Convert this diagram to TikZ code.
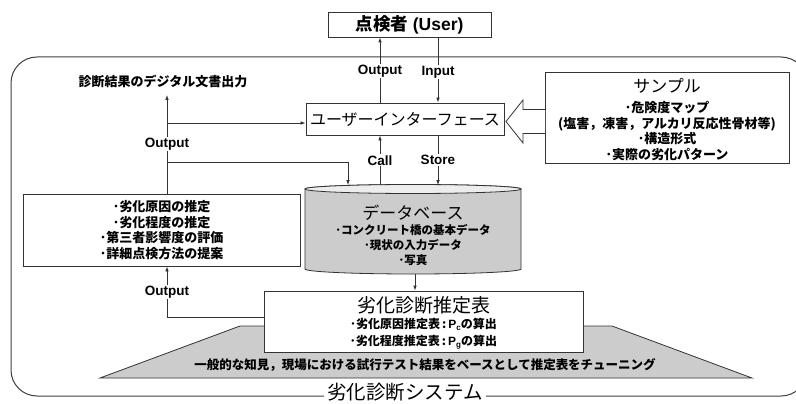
\documentclass[tikz,border=0pt]{standalone}
\usepackage{fontspec}
\setmainfont{Liberation Sans}
\newfontfamily\jp{Noto Sans CJK JP}
\usetikzlibrary{arrows.meta}
\begin{document}
\begin{tikzpicture}[x=1pt,y=1pt,
  ln/.style={draw=black!80, line width=0.8pt},
  arr/.style={ln, -{Latex[length=5pt,width=3.6pt]}},
  lbl/.style={font=\bfseries\fontsize{13.5}{15}\selectfont, fill=white, inner sep=1pt},
  box/.style={draw=black!80, line width=0.8pt, fill=white, inner sep=0pt},
  jpb/.style={font=\jp\bfseries\fontsize{13}{15.7}\selectfont, align=center, inner sep=0pt},
  ttl/.style={inner sep=0pt},
  shade/.style={fill=black!20}
]
\useasboundingbox (0,0) rectangle (796,-404);
\fill[white] (0,0) rectangle (796,-404);

% outer system frame
\begin{scope}
\clip (0,0) rectangle (796,-404);
\draw[draw=black!75, line width=1pt, rounded corners=26pt] (11,-57) rectangle (807,-396);
\end{scope}
\node[fill=white, inner xsep=3pt, inner ysep=0pt, font=\jp\fontsize{19.5}{21}\selectfont] (sys) at (405,-392) {劣化診断システム};

% helper x positions
\coordinate (xo) at (380,0);
\coordinate (xi) at (438,0);
\coordinate (xl) at (167,0);
\coordinate (xd) at (348,0);
\coordinate (xe) at (415,0);

% user
\node[box, minimum width=163pt, minimum height=25pt, font=\fontsize{17.5}{19}\selectfont] (user) at (409.5,-24.5) {{\jp\bfseries 点検者} \bfseries (User)};

% user interface
\node[box, minimum width=198pt, minimum height=32pt, font=\jp\fontsize{16}{18}\selectfont] (ui) at (405,-119) {ユーザーインターフェース};

% sample box
\node[box, minimum width=244pt, minimum height=91pt] (sample) at (667,-117.5) {};
\node[ttl, font=\jp\fontsize{17}{19}\selectfont] (sampleT) at (667,-86) {サンプル};
\node[jpb] (sampleB) at (667,-131) {･危険度マップ\\(塩害，凍害，アルカリ反応性骨材等)\\･構造形式\\･実際の劣化パターン};

% hollow arrow from sample to UI
\draw[ln, fill=white] (545,-109.5) -- (523,-109.5) -- (523,-100) -- (506,-121.5) -- (523,-143) -- (523,-133.5) -- (545,-133.5);

% database cylinder
\path[ln, shade] (305,-189) -- (305,-269) arc[start angle=180,end angle=360,x radius=108pt,y radius=5pt] -- (521,-189) arc[start angle=0,end angle=180,x radius=108pt,y radius=4.5pt] -- cycle;
\draw[ln, fill=black!7] (413,-189) ellipse [x radius=108pt, y radius=4.5pt];
\node[minimum width=216pt, minimum height=80pt, inner sep=0pt] (db) at (413,-229) {};
\coordinate (dbN) at (413,-185);
\coordinate (dbS) at (413,-274);
\node[ttl, font=\jp\fontsize{17}{19}\selectfont] (dbT) at (413,-213) {データベース};
\node[jpb, font=\jp\bfseries\fontsize{11.5}{15}\selectfont] (dbB) at (413,-245) {･コンクリート橋の基本データ\\･現状の入力データ\\･写真};

% left result box
\node[box, minimum width=277pt, minimum height=72pt, jpb] (left) at (161.5,-230) {･劣化原因の推定\\･劣化程度の推定\\･第三者影響度の評価\\･詳細点検方法の提案};

% digital output text
\node[ttl, font=\jp\bfseries\fontsize{13}{15}\selectfont] (dig) at (163,-81) {診断結果のデジタル文書出力};
\coordinate (digA) at (167,-95);

% trapezoid
\path[ln, shade] (100,-378) -- (240,-326) -- (612,-326) -- (752,-378) -- cycle;
\node[ttl, font=\jp\bfseries\fontsize{12.5}{14}\selectfont] (tune) at (425,-365) {一般的な知見，現場における試行テスト結果をベースとして推定表をチューニング};

% estimation table
\node[box, minimum width=319pt, minimum height=61pt] (est) at (423.5,-321.5) {};
\node[ttl, font=\jp\fontsize{19}{21}\selectfont] (estT) at (423.5,-305) {劣化診断推定表};
\node[jpb, font=\jp\bfseries\fontsize{12}{17}\selectfont] (estB) at (423.5,-333.5) {･劣化原因推定表\,:\,{\rmfamily P\raisebox{-2pt}{\fontsize{8}{8}\selectfont c}}の算出\\･劣化程度推定表\,:\,{\rmfamily P\raisebox{-2pt}{\fontsize{8}{8}\selectfont g}}の算出};

% connectors
\draw[arr] (ui.north -| xo) -- (user.south -| xo) node[lbl, pos=0.48] (lo1) {Output};
\draw[arr] (user.south -| xi) -- (ui.north -| xi) node[lbl, pos=0.53] (li1) {Input};
\draw[arr] (dbN -| xo) -- (ui.south -| xo) node[lbl, midway] (lc) {Call};
\draw[arr] (ui.south -| xi) -- (dbN -| xi) node[lbl, midway] (ls) {Store};

\draw[arr] (left.north -| xl) -- (digA) node[lbl, pos=0.5] (lo2) {Output};
\coordinate (b1) at (167,-123);
\coordinate (b2) at (167,-162);
\draw[arr] (b1) -- (b1 -| ui.west);
\draw[arr] (b2) -| (dbN -| xd);

\draw[arr] (dbS -| xe) -- (est.north -| xe);

\coordinate (b3) at (167,-317);
\draw[arr] (b3 -| est.west) -- (b3) -- (left.south -| xl) node[lbl, midway] (lo3) {Output};
\end{tikzpicture}
\end{document}
